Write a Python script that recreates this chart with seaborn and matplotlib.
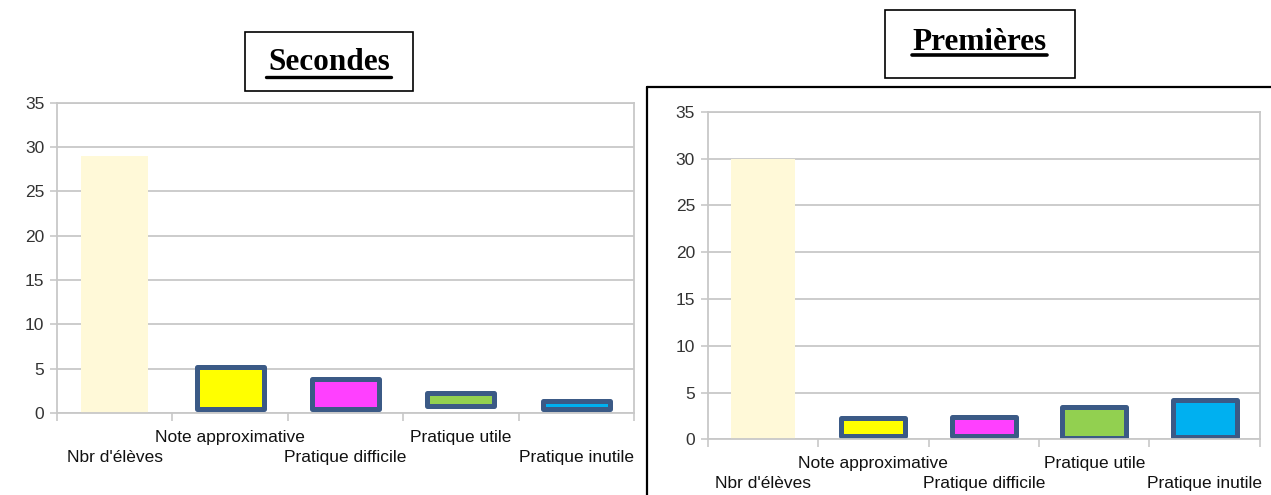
import matplotlib
matplotlib.use("Agg")
import matplotlib.pyplot as plt
import seaborn as sns
from matplotlib.lines import Line2D
from matplotlib.patches import Rectangle

sns.set_theme(style="white")
plt.rcParams['font.family'] = ['Liberation Sans', 'DejaVu Sans']

# données (haut et bas de chaque barre)
categories = ["Nbr d'élèves", "Note approximative", "Pratique difficile",
              "Pratique utile", "Pratique inutile"]
secondes_haut = [29, 5.2, 3.8, 2.2, 1.4]
secondes_bas = [0, 0.5, 0.5, 0.8, 0.5]
premieres_haut = [30, 2.3, 2.4, 3.4, 4.2]
premieres_bas = [0, 0.35, 0.35, 0.1, 0.25]
colors = ["#fff9d8", "#ffff00", "#ff40ff", "#92d050", "#00b0f0"]
edge = "#3b5a86"
grid_c = "#c8c8c8"

fig = plt.figure(figsize=(12.71, 4.95), dpi=100)
ax1 = fig.add_axes([0.0448, 0.1657, 0.4540, 0.6268])
ax2 = fig.add_axes([0.5567, 0.1125, 0.4346, 0.6618])


def draw(ax, haut, bas):
    for i, cat in enumerate(categories):
        lw = 0 if i == 0 else 3.6
        sns.barplot(x=[cat], y=[haut[i] - bas[i]], order=categories,
                    color=colors[i], saturation=1, edgecolor=edge, linewidth=lw,
                    width=0.58, bottom=bas[i], ax=ax)
    for p in ax.patches:
        p.set_joinstyle("round")
    ax.set_ylim(0, 35)
    ax.set_xlim(-0.5, 4.5)
    ax.set_yticks(range(0, 36, 5))
    ax.yaxis.grid(True, color=grid_c, lw=1.3)
    ax.set_axisbelow(True)
    for s in ax.spines.values():
        s.set_visible(True)
        s.set_color(grid_c)
        s.set_linewidth(1.3)
    ax.set_xticks(range(5))
    ax.set_xticklabels(categories, fontsize=12.5, color="#111111")
    ax.set_xticks([i - 0.5 for i in range(6)], minor=True)
    ax.tick_params(axis="x", which="major", length=0, pad=12)
    ax.tick_params(axis="x", which="minor", length=6, color=grid_c, width=1.2,
                   direction="out", bottom=True)
    ax.tick_params(axis="y", length=5, color=grid_c, width=1.2, pad=4,
                   labelsize=12.5, labelcolor="#333333", left=True)
    # étiquettes en quinconce : 1re, 3e, 5e sur la ligne du bas
    h_px = ax.get_position().height * fig.get_figheight() * fig.dpi
    for i, lab in enumerate(ax.get_xticklabels()):
        if i % 2 == 0:
            lab.set_y(-20 / h_px)
    ax.set_xlabel("")
    ax.set_ylabel("")


draw(ax1, secondes_haut, secondes_bas)
draw(ax2, premieres_haut, premieres_bas)

# cadres de titre
fig.add_artist(Rectangle((0.1928, 0.8162), 0.1322, 0.1192, transform=fig.transFigure,
                         fill=False, ec="black", lw=1.2))
fig.add_artist(Rectangle((0.6963, 0.8424), 0.1495, 0.1374, transform=fig.transFigure,
                         fill=False, ec="black", lw=1.2))
fig.text(329 / 1271, 1 - 70.5 / 495, "Secondes", ha="center", va="baseline",
         fontsize=22.5, fontweight="bold", family="Liberation Serif", color="black")
fig.text(980 / 1271, 1 - 50 / 495, "Premières", ha="center", va="baseline",
         fontsize=22.5, fontweight="bold", family="Liberation Serif", color="black")
fig.add_artist(Line2D([266 / 1271, 391 / 1271], [1 - 76.5 / 495] * 2,
                      transform=fig.transFigure, color="black", lw=2.4))
fig.add_artist(Line2D([912 / 1271, 1047 / 1271], [1 - 55 / 495] * 2,
                      transform=fig.transFigure, color="black", lw=2.6))

# cadre noir autour du graphique de droite
fig.add_artist(Line2D([647 / 1271, 1.0], [1 - 86.5 / 495] * 2,
                      transform=fig.transFigure, color="black", lw=1.6))
fig.add_artist(Line2D([647 / 1271] * 2, [1 - 86.5 / 495, 0.0],
                      transform=fig.transFigure, color="black", lw=1.6))

fig.savefig("out.png", dpi=100)
